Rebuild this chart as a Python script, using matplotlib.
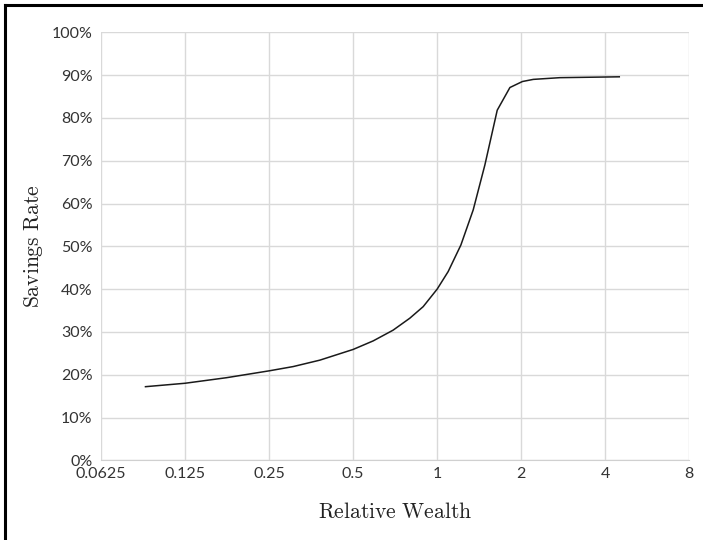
import matplotlib
matplotlib.use("Agg")
import matplotlib.pyplot as plt
from matplotlib.ticker import FixedLocator, FixedFormatter
from matplotlib.lines import Line2D

wealth = [0.0902, 0.125, 0.176, 0.25, 0.305, 0.380, 0.5, 0.590, 0.695, 0.798,
          0.891, 1.0, 1.095, 1.216, 1.346, 1.482, 1.641, 1.822, 2.02, 2.21,
          2.75, 4.49]
savings = [0.172, 0.180, 0.193, 0.209, 0.219, 0.234, 0.259, 0.279, 0.304, 0.332,
           0.359, 0.400, 0.441, 0.503, 0.585, 0.690, 0.818, 0.871, 0.885, 0.890,
           0.894, 0.896]

x_ticks = [0.0625, 0.125, 0.25, 0.5, 1, 2, 4, 8]
x_tick_labels = ["0.0625", "0.125", "0.25", "0.5", "1", "2", "4", "8"]
y_ticks = [0, 0.1, 0.2, 0.3, 0.4, 0.5, 0.6, 0.7, 0.8, 0.9, 1.0]
y_tick_labels = ["0%", "10%", "20%", "30%", "40%", "50%", "60%", "70%", "80%", "90%", "100%"]

plt.rcParams["mathtext.fontset"] = "cm"

fig = plt.figure(figsize=(7.03, 5.40), dpi=100)
ax = fig.add_axes([101/703, (540-460.3)/540, (689.3-101)/703, (460.3-32.3)/540])

ax.plot(wealth, savings, color="#1a1a1a", linewidth=1.1)
ax.set_xscale("log", base=2)
ax.set_xlim(0.0625, 8)
ax.set_ylim(0, 1)
ax.xaxis.set_major_locator(FixedLocator(x_ticks))
ax.xaxis.set_major_formatter(FixedFormatter(x_tick_labels))
ax.xaxis.set_minor_locator(FixedLocator([]))
ax.yaxis.set_major_locator(FixedLocator(y_ticks))
ax.yaxis.set_major_formatter(FixedFormatter(y_tick_labels))

ax.grid(True, color="#d9d9d9", linewidth=1.0)
ax.set_axisbelow(True)
for s in ["top", "right", "left"]:
    ax.spines[s].set_visible(False)
ax.spines["bottom"].set_color("#d0d0d0")
ax.tick_params(length=0, labelsize=11.5, colors="#333333")
ax.tick_params(axis="y", pad=6)
ax.tick_params(axis="x", pad=5)
for lab in ax.get_xticklabels() + ax.get_yticklabels():
    lab.set_family("Lato")

ax.set_xlabel(r"$\mathrm{Relative\ Wealth}$", fontsize=15.5, color="#222222", labelpad=15)
ax.set_ylabel(r"$\mathrm{Savings\ Rate}$", fontsize=15.5, color="#222222", labelpad=5)

fig.add_artist(Line2D([5/703, 5/703], [0, 1 - 5/540], transform=fig.transFigure, color="black", linewidth=2.2))
fig.add_artist(Line2D([5/703, 1], [1 - 5/540, 1 - 5/540], transform=fig.transFigure, color="black", linewidth=2.2))

fig.savefig("out.png", dpi=100)
